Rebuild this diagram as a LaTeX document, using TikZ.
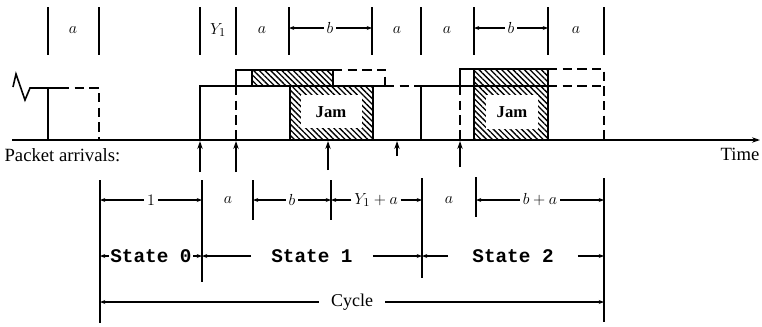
\documentclass[tikz,border=0pt]{standalone}
\usepackage{fontspec}
\setmainfont{Liberation Serif}
\newfontfamily\statefont{Liberation Mono}
\usetikzlibrary{arrows.meta,patterns.meta}
\tikzset{
    sig/.style={line width=1.2pt},
    sigdash/.style={line width=1.2pt,dash pattern=on 7pt off 4pt},
    bound/.style={line width=0.9pt},
    dimarrow/.style={line width=0.8pt,-{Stealth[length=4pt,width=3pt]}},
    lbl/.style={font=\fontsize{13}{15}\selectfont,inner sep=2pt},
    txt/.style={font=\fontsize{14}{16}\selectfont,inner sep=1pt},
    statelbl/.style={font=\statefont\bfseries\fontsize{14.5}{16}\selectfont,inner ysep=1pt},
    jam/.style={pattern={Lines[angle=-45,distance=3pt,line width=1pt]}},
    >={Stealth[length=6pt,width=4pt]}
}
\begin{document}
\begin{tikzpicture}[x=0.75pt,y=-0.75pt]
\useasboundingbox (0,0) rectangle (762,326);
% slot marks on top
\foreach \x in {48,99,200,236,289,372,421,474,548,604}
    \draw[bound] (\x,7) -- (\x,55);
\foreach \x/\t [count=\i] in {73/$a$,218/$Y_1$,262/$a$,397/$a$,447/$a$,576/$a$}
    \node[lbl] (top\i) at (\x,30) {\t};
\node[lbl] (tb1) at (330,28) {$b$};
\node[lbl] (tb2) at (511,28) {$b$};
\coordinate (tl1) at (289,28); \coordinate (tr1) at (372,28);
\coordinate (tl2) at (474,28); \coordinate (tr2) at (548,28);
\foreach \i in {1,2} {
    \draw[dimarrow] (tb\i.west) -- (tl\i);
    \draw[dimarrow] (tb\i.east) -- (tr\i);
}
% hatched jam areas
\fill[jam] (252,70) rectangle (333,86);
\draw[bound] (252,70) rectangle (333,86);
\fill[jam] (290,86) rectangle (373,140);
\fill[white] (301,95) rectangle (362,128);
\draw[sig] (290,86) rectangle (373,140);
\fill[jam] (474,69) rectangle (548,140);
\fill[white] (486,95) rectangle (538,129);
\draw[sig] (474,69) rectangle (548,140);
\node[font=\bfseries\fontsize{12.5}{14}\selectfont] (jam1) at (331,112) {Jam};
\node[font=\bfseries\fontsize{12.5}{14}\selectfont] (jam2) at (512,112) {Jam};
% channel signal
\draw[sig] (13,87) -- (16,74) -- (25,100) -- (30,88) -- (60,88);
\draw[sigdash] (60,88) -- (99,88) -- (99,140);
\draw[sig] (48,88) -- (48,140);
\draw[sig] (200,140) -- (200,86) -- (385,86);
\draw[sigdash] (385,86) -- (421,86);
\draw[sig] (236,86) -- (236,70) -- (333,70);
\draw[sigdash] (333,70) -- (385,70) -- (385,86);
\draw[sigdash] (236,86) -- (236,140);
\draw[sig] (421,140) -- (421,86) -- (548,86);
\draw[sigdash] (548,86) -- (604,86);
\draw[sig] (460,86) -- (460,69) -- (548,69);
\draw[sigdash] (548,69) -- (604,69) -- (604,140);
\draw[sigdash] (460,86) -- (460,140);
% time axis
\coordinate (t0) at (12,140);
\coordinate (tend) at (760,140);
\draw[sig,->] (t0) -- (tend);
\node[txt,anchor=west] (pkt) at (3,155) {Packet arrivals:};
\node[txt] (time) at (740,154) {Time};
% arrivals
\foreach \x/\y [count=\i] in {200/172,236/172,328/170,397/156,460/167} {
    \coordinate (arr\i) at (\x,141);
    \draw[sig,->] (\x,\y) -- (arr\i);
}
% bottom bounds
\foreach \x/\ya/\yb in {100/180/323,202/180/282,253/180/220,331/180/220,422/178/278,476/177/217,604/178/322}
    \draw[bound] (\x,\ya) -- (\x,\yb);
% first row of lengths
\node[lbl] (d1) at (151,200) {$1$};
\node[lbl] (d2) at (228,200) {$a$};
\node[lbl] (d3) at (292,200) {$b$};
\node[lbl] (d4) at (376,200) {$Y_1+a$};
\node[lbl] (d5) at (449,200) {$a$};
\node[lbl] (d6) at (540,200) {$b+a$};
\foreach \i/\l/\r in {1/100/202,3/253/331,4/331/422,6/476/604} {
    \draw[dimarrow] (d\i.west) -- (\l,200);
    \draw[dimarrow] (d\i.east) -- (\r,200);
}
% states
\node[statelbl,inner xsep=1pt] (s0) at (151,256) {State 0};
\node[statelbl,inner xsep=15pt] (s1) at (312,256) {State 1};
\node[statelbl,inner xsep=18pt] (s2) at (513,256) {State 2};
\foreach \i/\l/\r in {0/100/202,1/202/422,2/422/604} {
    \draw[dimarrow] (s\i.west) -- (\l,256);
    \draw[dimarrow] (s\i.east) -- (\r,256);
}
% cycle
\node[txt,font=\fontsize{13.5}{16}\selectfont,inner xsep=9pt] (cyc) at (352,302) {Cycle};
\draw[dimarrow] (cyc.west) -- (100,302);
\draw[dimarrow] (cyc.east) -- (604,302);
\end{tikzpicture}
\end{document}
